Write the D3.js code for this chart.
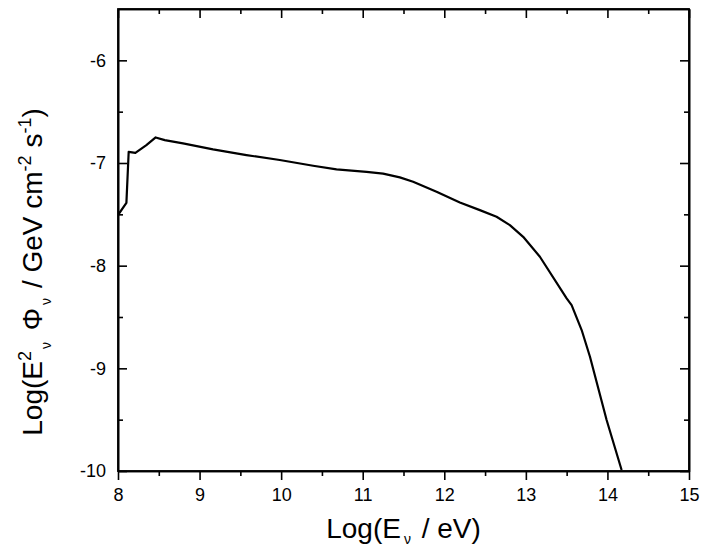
<!DOCTYPE html>
<html>
<head>
<meta charset="utf-8">
<script src="https://cdn.jsdelivr.net/npm/d3@7"></script>
<style>
  body { margin: 0; background: #fff; }
  text { font-family: "Liberation Sans", Arial, sans-serif; fill: #000; }
  .axis path, .axis line { stroke: #000; stroke-width: 1.6px; }
  .axis text { font-size: 18px; }
</style>
</head>
<body>
<div id="chart"></div>
<script>
//////////////////////////////////////////////
// Data //////////////////////////////////////
//////////////////////////////////////////////
// Log(E) in eV
var logE = [8.00, 8.103, 8.131, 8.213, 8.348, 8.462, 8.573, 8.797, 9.165, 9.575,
            9.983, 10.392, 10.679, 11.047, 11.250, 11.455, 11.618, 11.905, 12.191, 12.436,
            12.641, 12.804, 12.967, 13.172, 13.500, 13.561, 13.684, 13.786, 13.990, 14.174];
// Log(E^2 Phi) in GeV cm^-2 s^-1
var logFlux = [-7.507, -7.388, -6.891, -6.901, -6.826, -6.751, -6.777, -6.809, -6.868, -6.923,
               -6.971, -7.027, -7.062, -7.086, -7.104, -7.140, -7.183, -7.280, -7.384, -7.459,
               -7.524, -7.605, -7.719, -7.913, -8.318, -8.384, -8.627, -8.887, -9.503, -9.990];

var xMajor = [8, 9, 10, 11, 12, 13, 14, 15];
var xMinor = [8.5, 9.5, 10.5, 11.5, 12.5, 13.5, 14.5];
var yMajor = [-10, -9, -8, -7, -6];
var yMinor = [-9.5, -8.5, -7.5, -6.5];

var data = logE.map(function(e, i) { return {x: e, y: logFlux[i]}; });

//////////////////////////////////////////////
// Chart Config /////////////////////////////
//////////////////////////////////////////////
var margin = {top: 9, right: 28, bottom: 77, left: 118};
var width = 717 - margin.left - margin.right,
    height = 548 - margin.top - margin.bottom;

var xScale = d3.scaleLinear().domain([8, 15]).range([0, width]);
var yScale = d3.scaleLinear().domain([-10, -5.5]).range([height, 0]);

var svg = d3.select("#chart").append("svg")
    .attr("width", 717)
    .attr("height", 548);

var artboard = svg.append("g")
    .attr("transform", "translate(" + margin.left + "," + margin.top + ")");

// clip so the tail stops at the bottom frame
artboard.append("clipPath").attr("id", "clip")
  .append("rect").attr("width", width).attr("height", height);

// bottom: ticks point outward, with labels
artboard.append("g").attr("class", "axis")
    .attr("transform", "translate(0," + height + ")")
    .call(d3.axisBottom(xScale).tickValues(xMajor).tickSizeInner(9).tickSizeOuter(0).tickPadding(8)
      .tickFormat(d3.format("d")));
artboard.append("g").attr("class", "axis")
    .attr("transform", "translate(0," + height + ")")
    .call(d3.axisBottom(xScale).tickValues(xMinor).tickSizeInner(5).tickSizeOuter(0).tickFormat(""));

// top: inward ticks, no labels
artboard.append("g").attr("class", "axis")
    .call(d3.axisTop(xScale).tickValues(xMajor).tickSizeInner(-9).tickSizeOuter(0).tickFormat(""));
artboard.append("g").attr("class", "axis")
    .call(d3.axisTop(xScale).tickValues(xMinor).tickSizeInner(-5).tickSizeOuter(0).tickFormat(""));

// left: inward ticks with labels
artboard.append("g").attr("class", "axis")
    .call(d3.axisLeft(yScale).tickValues(yMajor).tickSizeInner(-9).tickSizeOuter(0).tickPadding(12)
      .tickFormat(function(d) { return "-" + Math.abs(d); }));
artboard.append("g").attr("class", "axis")
    .call(d3.axisLeft(yScale).tickValues(yMinor).tickSizeInner(-5).tickSizeOuter(0).tickFormat(""));

// right: inward ticks, no labels
artboard.append("g").attr("class", "axis")
    .attr("transform", "translate(" + width + ",0)")
    .call(d3.axisRight(yScale).tickValues(yMajor).tickSizeInner(-9).tickSizeOuter(0).tickFormat(""));
artboard.append("g").attr("class", "axis")
    .attr("transform", "translate(" + width + ",0)")
    .call(d3.axisRight(yScale).tickValues(yMinor).tickSizeInner(-5).tickSizeOuter(0).tickFormat(""));

// frame
artboard.append("rect")
    .attr("width", width).attr("height", height)
    .style("fill", "none").style("stroke", "#000").style("stroke-width", "1.8px");

//////////////////////////////////////////////
// Drawing ///////////////////////////////////
//////////////////////////////////////////////
var line = d3.line()
    .x(function(d) { return xScale(d.x); })
    .y(function(d) { return yScale(d.y); });

artboard.append("path").datum(data)
    .attr("clip-path", "url(#clip)")
    .attr("d", line)
    .style("fill", "none")
    .style("stroke", "#000")
    .style("stroke-width", "2.2px")
    .style("stroke-linejoin", "round");

// x title
var xt = svg.append("text")
    .attr("x", margin.left + width / 2)
    .attr("y", 538)
    .attr("text-anchor", "middle")
    .style("font-size", "28px");
xt.append("tspan").text("Log(E");
xt.append("tspan").attr("dy", 6).attr("dx", 3).style("font-size", "14px").text("\u03bd");
xt.append("tspan").attr("dy", -6).attr("dx", 3).text(" / eV)");

// y title
var yt = svg.append("text")
    .attr("transform", "translate(42,272) rotate(-90)")
    .attr("text-anchor", "middle")
    .style("font-size", "28px");
yt.append("tspan").text("Log(E");
yt.append("tspan").attr("dy", -11).style("font-size", "18px").text("2");
yt.append("tspan").attr("dy", 20).attr("dx", 2).style("font-size", "14px").text("\u03bd");
yt.append("tspan").attr("dy", -9).attr("dx", 4).text(" \u03a6");
yt.append("tspan").attr("dy", 9).attr("dx", 3).style("font-size", "14px").text("\u03bd");
yt.append("tspan").attr("dy", -9).attr("dx", 2).text(" / GeV cm");
yt.append("tspan").attr("dy", -11).style("font-size", "18px").text("-2");
yt.append("tspan").attr("dy", 11).text(" s");
yt.append("tspan").attr("dy", -11).style("font-size", "18px").text("-1");
yt.append("tspan").attr("dy", 11).text(")");
</script>
</body>
</html>
